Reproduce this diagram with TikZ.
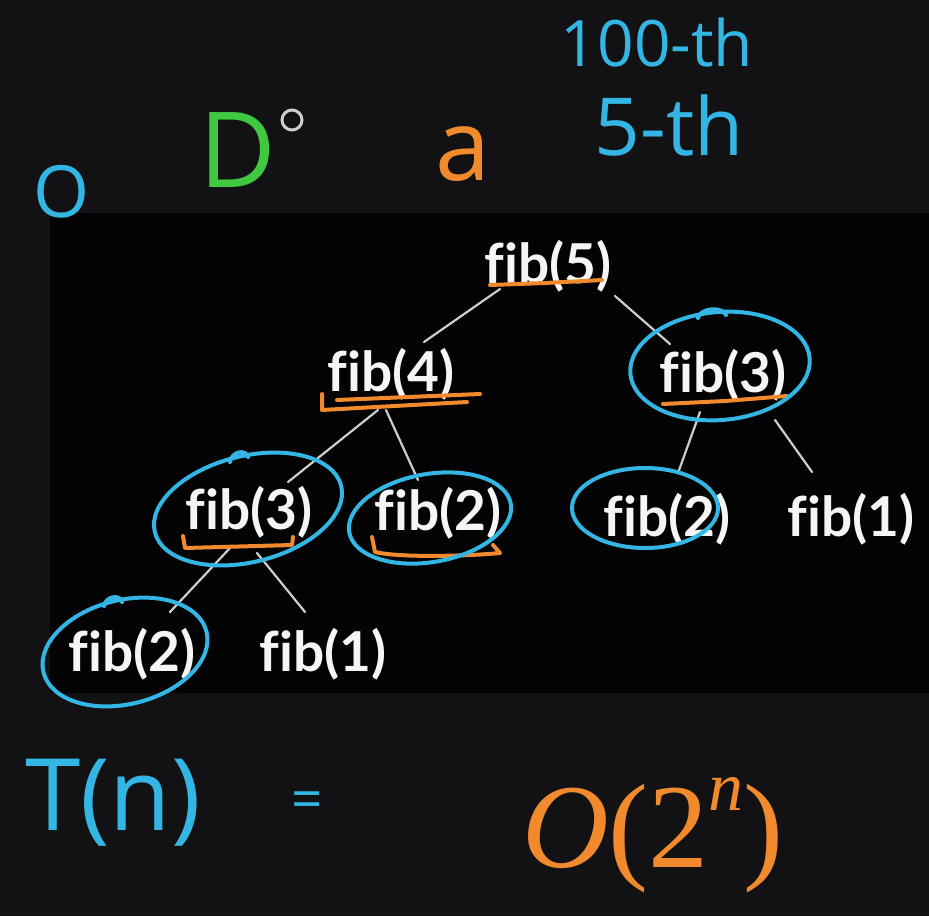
\documentclass[tikz,border=0pt]{standalone}
\usepackage{fontspec}
\newfontfamily\fibfont{Lato}[Ligatures=NoCommon]
\newfontfamily\handfont{Open Sans}[Ligatures=NoCommon]
\newfontfamily\bigserif{Liberation Serif}
\definecolor{bgouter}{RGB}{18,18,20}
\definecolor{bginner}{RGB}{3,3,3}
\definecolor{hcyan}{RGB}{52,182,228}
\definecolor{horange}{RGB}{240,138,44}
\definecolor{hgreen}{RGB}{64,200,64}
\definecolor{edgegray}{RGB}{205,205,205}
\definecolor{txtwhite}{RGB}{245,245,245}
\begin{document}
\begin{tikzpicture}[x=1pt,y=-1pt,
  fibnode/.style={text=txtwhite, font=\fibfont\bfseries\fontsize{55}{55}\selectfont, inner sep=0pt, anchor=base},
  edge/.style={draw=edgegray, line width=2.2pt, line cap=round},
  bluering/.style={draw=hcyan, line width=4pt, line cap=round},
  orangeline/.style={draw=horange, line width=4pt, line cap=round, line join=round},
  hand/.style={inner sep=0pt, anchor=base}
]
\useasboundingbox (0,0) rectangle (929,916);
\fill[bgouter] (0,0) rectangle (929,916);
\fill[bginner] (50,213) rectangle (929,693);

% tree nodes
\node[fibnode] (n5) at (548,283) {fib(5)};
\node[fibnode] (n4) at (391,391) {fib(4)};
\node[fibnode] (n3r) at (723,392) {fib(3)};
\node[fibnode] (n3l) at (249,529) {fib(3)};
\node[fibnode] (n2a) at (438,530) {fib(2)};
\node[fibnode] (n2r) at (667,536) {fib(2)};
\node[fibnode] (n1r) at (851,536) {fib(1)};
\node[fibnode] (n2b) at (132,671) {fib(2)};
\node[fibnode] (n1b) at (323,671) {fib(1)};

% edges
\draw[edge] ([shift={(-48,6)}]n5.base) -- ([shift={(33,-49)}]n4.base);
\draw[edge] ([shift={(67,13)}]n5.base) -- ([shift={(-53,-48)}]n3r.base);
\draw[edge] ([shift={(-13,19)}]n4.base) -- ([shift={(39,-47)}]n3l.base);
\draw[edge] ([shift={(-5,19)}]n4.base) -- ([shift={(-20,-50)}]n2a.base);
\draw[edge] ([shift={(-23,20)}]n3r.base) -- ([shift={(11,-63)}]n2r.base);
\draw[edge] ([shift={(52,28)}]n3r.base) -- ([shift={(-39,-64)}]n1r.base);
\draw[edge] ([shift={(-19,19)}]n3l.base) -- ([shift={(38,-59)}]n2b.base);
\draw[edge] ([shift={(8,24)}]n3l.base) -- ([shift={(-18,-59)}]n1b.base);

% orange underlines
\draw[orangeline] (490,285) -- (545,283) -- (602,280);
\draw[orangeline] (322,394) -- (322,410) -- (467,402);
\draw[orangeline] (337,400) -- (480,394);
\draw[orangeline] (663,404) -- (725,401) -- (787,396);
\draw[orangeline] (183,536) -- (185,548) -- (292,545) -- (293,537);
\draw[orangeline] (372,537) -- (375,552) .. controls (400,558) and (470,556) .. (500,553) -- (493,545);

% blue rings
\draw[bluering, rotate around={5:(720,366)}] (720,366) ellipse [x radius=90, y radius=54];
\draw[bluering] (698,318) .. controls (700,308) and (722,306) .. (726,315);
\draw[bluering, rotate around={14:(248,509)}] (248,509) ellipse [x radius=96, y radius=53];
\draw[bluering] (230,462) .. controls (232,451) and (246,449) .. (248,457);
\draw[bluering, rotate around={10:(430,518)}] (430,518) ellipse [x radius=82, y radius=44];
\draw[bluering] (645,508) ellipse [x radius=73, y radius=40];
\draw[bluering, rotate around={14:(125,652)}] (125,652) ellipse [x radius=84, y radius=52];
\draw[bluering] (104,606) .. controls (106,596) and (120,594) .. (122,602);

% top annotations
\node[hand, text=hcyan, font=\handfont\fontsize{72}{72}\selectfont] (ho) at (62,217) {O};
\node[hand, text=hgreen, font=\handfont\fontsize{105}{105}\selectfont] (hd) at (238,187) {D};
\draw[edgegray, line width=3pt] (292,120) circle [radius=10];
\node[hand, text=horange, font=\handfont\fontsize{99}{99}\selectfont] (ha) at (463,180) {a};
\node[hand, text=hcyan, font=\handfont\fontsize{64}{64}\selectfont] (h100) at (657,66) {100-th};
\node[hand, text=hcyan, font=\handfont\fontsize{80}{80}\selectfont] (h5) at (669,155) {5-th};

% bottom
\node[hand, text=hcyan, font=\handfont\fontsize{100}{100}\selectfont] (tn) at (113,830) {T(n)};
\node[hand, text=hcyan, font=\handfont\fontsize{55}{55}\selectfont] (eq) at (307,818) {=};
\node[hand, text=horange, font=\bigserif\fontsize{120}{120}\selectfont] (big) at (653,867)
  {\itshape O\upshape(2\raisebox{57pt}{\fontsize{70}{70}\selectfont\itshape n}\upshape)};
\end{tikzpicture}
\end{document}
